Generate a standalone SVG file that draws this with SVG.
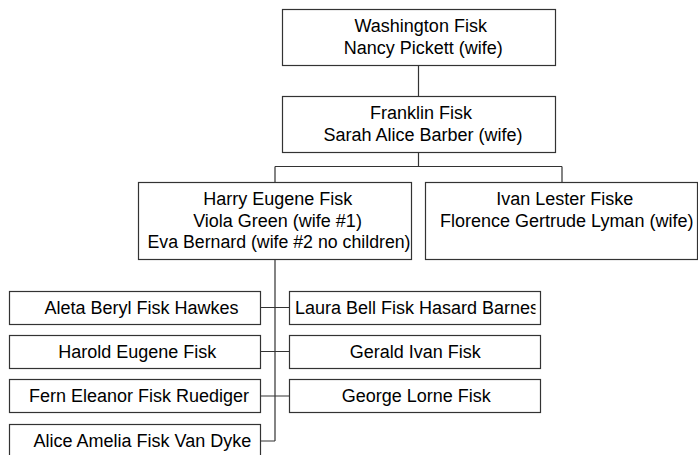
<svg xmlns="http://www.w3.org/2000/svg" width="698" height="455" viewBox="0 0 698 455">
<style>
.box{fill:#fff;stroke:#333;stroke-width:1.2}
.t{font-family:"Liberation Sans",Arial,sans-serif;font-size:18px;fill:#000;text-anchor:middle}
.c{fill:none;stroke:#333;stroke-width:1.2}
</style>
<defs>
<clipPath id="clipLaura"><rect x="289.5" y="291.5" width="246" height="33"/></clipPath>
</defs>
<rect width="698" height="455" fill="#fff"/>
<g id="connectors">
<path class="c" d="M418.5 65.5V96.5M418.5 152.5V166.5M275 166.5H562M275 166.5V182.5M562 166.5V182.5"/>
<path class="c" d="M275 259.5V441M260.5 307.5H289.5M260.5 351.5H289.5M260.5 396H289.5M260.5 441H275"/>
</g>
<g id="washington">
<rect class="box" x="282.5" y="9.5" width="273" height="56"/>
<text class="t" x="420.7" y="32">Washington Fisk</text>
<text class="t" x="423.3" y="53.5">Nancy Pickett (wife)</text>
</g>
<g id="franklin">
<rect class="box" x="282.5" y="96.5" width="273" height="56"/>
<text class="t" x="421" y="119">Franklin Fisk</text>
<text class="t" x="423" y="140.5">Sarah Alice Barber (wife)</text>
</g>
<g id="harry">
<rect class="box" x="138.5" y="182.5" width="273" height="77"/>
<text class="t" x="277.8" y="205">Harry Eugene Fisk</text>
<text class="t" x="277.5" y="226.5">Viola Green (wife #1)</text>
<text class="t" x="279" y="248" textLength="263" lengthAdjust="spacingAndGlyphs">Eva Bernard (wife #2 no children)</text>
</g>
<g id="ivan">
<rect class="box" x="425.5" y="182.5" width="272" height="77"/>
<text class="t" x="564.7" y="205">Ivan Lester Fiske</text>
<text class="t" x="566.7" y="226.5">Florence Gertrude Lyman (wife)</text>
</g>
<g id="aleta">
<rect class="box" x="9.5" y="291.5" width="251" height="33"/>
<text class="t" x="141.5" y="313.5">Aleta Beryl Fisk Hawkes</text>
</g>
<g id="harold">
<rect class="box" x="9.5" y="335.5" width="251" height="33"/>
<text class="t" x="137.3" y="357.5">Harold Eugene Fisk</text>
</g>
<g id="fern">
<rect class="box" x="9.5" y="379.5" width="251" height="33"/>
<text class="t" x="139" y="401.5">Fern Eleanor Fisk Ruediger</text>
</g>
<g id="alice">
<rect class="box" x="9.5" y="424.5" width="251" height="33"/>
<text class="t" x="142.3" y="446.5">Alice Amelia Fisk Van Dyke</text>
</g>
<g id="laura">
<rect class="box" x="289.5" y="291.5" width="251" height="33"/>
<text class="t" x="295" y="313.5" style="text-anchor:start" clip-path="url(#clipLaura)">Laura Bell Fisk Hasard Barnes</text>
</g>
<g id="gerald">
<rect class="box" x="289.5" y="335.5" width="251" height="33"/>
<text class="t" x="415.3" y="357.5">Gerald Ivan Fisk</text>
</g>
<g id="george">
<rect class="box" x="289.5" y="379.5" width="251" height="33"/>
<text class="t" x="416.2" y="401.5">George Lorne Fisk</text>
</g>
</svg>
